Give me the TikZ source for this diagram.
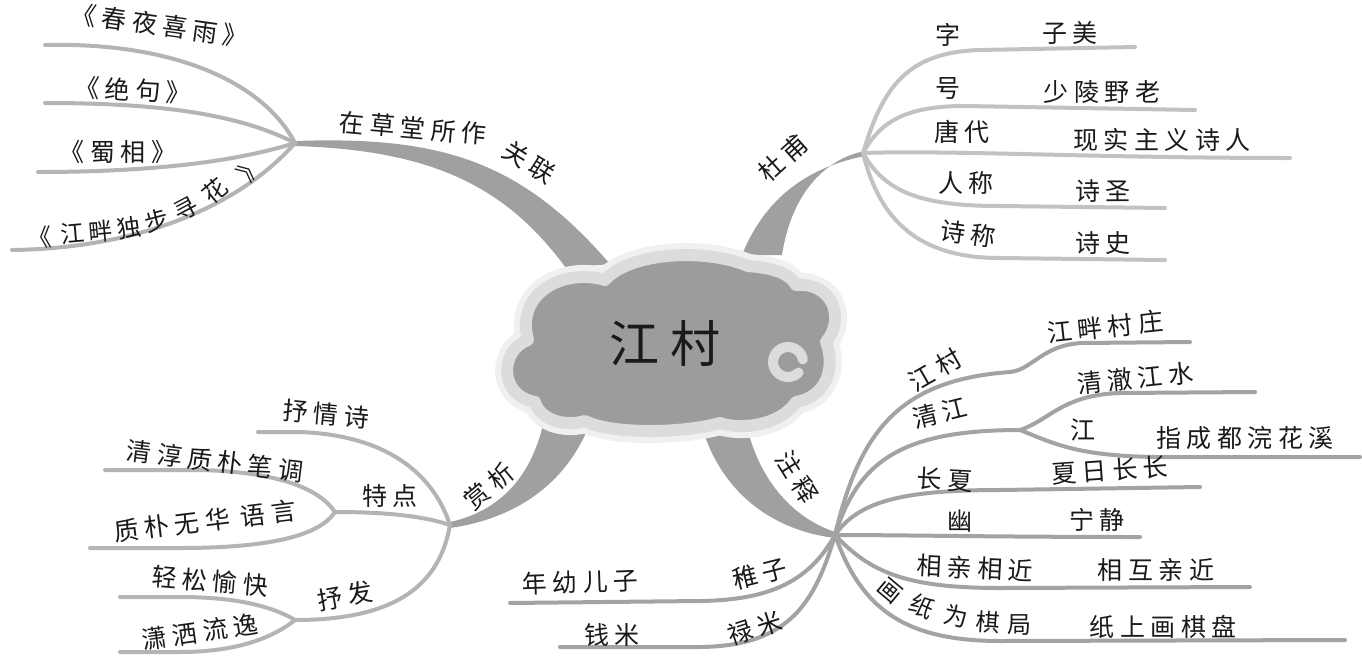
\documentclass[tikz,border=0pt]{standalone}
\usepackage{fontspec}
\newfontfamily\cjk[LetterSpace=22]{Noto Sans CJK SC}
\newfontfamily\cjkn{Noto Sans CJK SC}
\definecolor{txt}{HTML}{1A1A1A}
\definecolor{lgray}{HTML}{B4B4B4}
\definecolor{tgray}{HTML}{C2C2C2}
\definecolor{mgray}{HTML}{A3A3A3}
\definecolor{bgray}{HTML}{A0A0A0}
\definecolor{cloudc}{HTML}{9C9C9C}
\definecolor{haloc}{HTML}{DCDCDC}
\definecolor{haloo}{HTML}{F0F0F0}
\begin{document}
\begin{tikzpicture}[x=1pt,y=-1pt,
  lbl/.style={font=\cjk\fontsize{25}{25}\selectfont, text=txt, inner sep=0pt},
  lblc/.style={font=\cjkn\fontsize{24}{24}\selectfont, text=txt, inner sep=0pt},
  big/.style={font=\cjk\fontsize{50}{50}\selectfont, text=txt, inner sep=0pt},
  brTL/.style={draw=lgray, line width=4pt, line cap=round},
  brTR/.style={draw=tgray, line width=4pt, line cap=round},
  brLR/.style={draw=mgray, line width=4pt, line cap=round},
  brLL/.style={draw=lgray, line width=4pt, line cap=round},
  trunk/.style={fill=bgray}]
\useasboundingbox (0,0) rectangle (1362,659);
\fill[white] (0,0) rectangle (1362,659);

% ---------- hubs ----------
\coordinate (hTL) at (295,143);
\coordinate (hTR) at (863,153);
\coordinate (hLR) at (835,535);
\coordinate (hLL) at (450,525);
\coordinate (hQJ) at (1020,430);
\coordinate (hTD) at (335,512);
\coordinate (hSF) at (295,620);

% ---------- thick trunks ----------
\path[trunk] (295,141) .. controls (440,136) and (520,160) .. (610,264)
  -- (566,268) .. controls (505,185) and (430,150) .. (295,146) -- cycle;
\path[trunk] (865,151) .. controls (828,158) and (792,190) .. (782,255)
  -- (742,255) .. controls (768,190) and (818,165) .. (865,156) -- cycle;
\path[trunk] (700,420) .. controls (718,490) and (770,530) .. (835,538)
  -- (835,532) .. controls (785,515) and (755,470) .. (745,418) -- cycle;
\path[trunk] (592,418) .. controls (570,480) and (520,518) .. (450,528)
  -- (450,522) .. controls (505,510) and (535,470) .. (545,415) -- cycle;

% ---------- top-left branches ----------
\draw[brTL] (45,45) .. controls (170,42) and (262,80) .. (hTL);
\draw[brTL] (45,103) .. controls (150,103) and (235,112) .. (hTL);
\draw[brTL] (38,172) .. controls (150,172) and (235,162) .. (hTL);
\draw[brTL] (12,250) .. controls (150,248) and (245,200) .. (hTL);

% ---------- top-right branches ----------
\draw[brTR] (hTR) .. controls (882,90) and (905,52) .. (980,50) -- (1135,47);
\draw[brTR] (hTR) .. controls (880,122) and (905,106) .. (965,106) -- (1195,110);
\draw[brTR] (hTR) .. controls (950,150) and (1100,158) .. (1290,158);
\draw[brTR] (hTR) .. controls (885,192) and (920,206) .. (1000,206) -- (1165,208);
\draw[brTR] (hTR) .. controls (880,222) and (920,258) .. (1000,258) -- (1165,260);

% ---------- lower-right branches ----------
\draw[brLR] (hLR) .. controls (860,430) and (900,380) .. (1010,372)
  .. controls (1032,370) and (1042,345) .. (1082,343) -- (1190,342);
\draw[brLR] (hLR) .. controls (858,462) and (900,430) .. (hQJ);
\draw[brLR] (hQJ) .. controls (1050,420) and (1062,395) .. (1120,393) -- (1255,392);
\draw[brLR] (hQJ) .. controls (1060,446) and (1082,458) .. (1180,457) -- (1360,457);
\draw[brLR] (hLR) .. controls (858,502) and (900,490) .. (1000,490) -- (1200,487);
\draw[brLR] (hLR) .. controls (900,535) and (1000,537) .. (1140,537);
\draw[brLR] (hLR) .. controls (870,572) and (905,588) .. (1000,588) -- (1250,587);
\draw[brLR] (hLR) .. controls (860,605) and (900,641) .. (1000,641) -- (1345,640);
\draw[brLR] (hLR) .. controls (810,580) and (772,600) .. (700,601) -- (510,603);
\draw[brLR] (hLR) .. controls (815,602) and (790,646) .. (700,647) -- (560,647);

% ---------- lower-left branches ----------
\draw[brLL] (hLL) .. controls (432,470) and (382,435) .. (300,432) -- (258,432);
\draw[brLL] (hLL) .. controls (420,515) and (380,512) .. (hTD);
\draw[brLL] (hTD) .. controls (320,490) and (282,472) .. (200,470) -- (105,470);
\draw[brLL] (hTD) .. controls (320,535) and (272,548) .. (180,548) -- (90,548);
\draw[brLL] (hLL) .. controls (440,582) and (400,620) .. (hSF);
\draw[brLL] (hSF) .. controls (270,605) and (232,597) .. (180,597) -- (120,597);
\draw[brLL] (hSF) .. controls (270,640) and (232,652) .. (180,652) -- (120,652);

% ---------- cloud ----------
\def\cloudpath{(535,402) .. controls (498,395) and (500,350) .. (528,340)
  .. controls (515,292) and (565,268) .. (605,280)
  .. controls (630,252) and (705,248) .. (748,266)
  .. controls (775,268) and (790,274) .. (796,285)
  .. controls (832,282) and (846,318) .. (826,342)
  .. controls (836,368) and (826,397) .. (796,402)
  .. controls (780,426) and (740,430) .. (720,423)
  .. controls (680,434) and (610,434) .. (585,421)
  .. controls (565,427) and (540,420) .. (535,402) -- cycle}
\path[draw=haloo, line width=24pt, line join=round] \cloudpath;
\path[fill=cloudc, draw=haloc, line width=12pt, line join=round] \cloudpath;
\draw[haloc, line width=10pt, line cap=round] (802.8,359.4) arc[start angle=-10, end angle=-315, radius=15];
\node[big] (center) at (665,343) {江村};

% ---------- labels: top-left ----------
\node[lbl, rotate=-8] (chunye) at (160,25) {《春夜喜雨》};
\node[lbl, rotate=-3] (jueju) at (133,90) {《绝句》};
\node[lbl] (shuxiang) at (118,152) {《蜀相》};
\foreach \c/\px/\py/\r [count=\i] in {《/40/238/4, 江/73/233/5, 畔/101/231/5, 独/129/228/8, 步/157/221/15, 寻/186/209/28, 花/215/191/40, 》/250/168/50}
  \node[lblc, rotate=\r] (jiangpan\i) at (\px,\py) {\c};
\node[lbl, rotate=-5] (caotang) at (413,128) {在草堂所作};
\node[lbl, rotate=-32] (guanlian) at (529,162) {关联};

% ---------- labels: top-right ----------
\node[lbl, rotate=42] (dufu) at (783,158) {杜甫};
\node[lbl] (zi) at (948,35) {字};
\node[lbl] (zimei) at (1070,33) {子美};
\node[lbl] (hao) at (948,88) {号};
\node[lbl] (shaoling) at (1102,92) {少陵野老};
\node[lbl] (tangdai) at (962,132) {唐代};
\node[lbl] (xianshi) at (1162,140) {现实主义诗人};
\node[lbl] (rencheng) at (966,183) {人称};
\node[lbl] (shisheng) at (1103,191) {诗圣};
\node[lbl, rotate=-8] (shicheng) at (968,234) {诗称};
\node[lbl] (shishi) at (1103,243) {诗史};

% ---------- labels: lower-right ----------
\node[lbl, rotate=-58] (zhushi) at (797,477) {注释};
\node[lbl, rotate=30] (jiangcun) at (935,370) {江村};
\node[lbl, rotate=6] (jiangpancz) at (1105,327) {江畔村庄};
\node[lbl, rotate=14] (qingjiang) at (940,413) {清江};
\node[lbl, rotate=6] (qingche) at (1135,378) {清澈江水};
\node[lbl] (jiang) at (1083,430) {江};
\node[lbl] (zhicd) at (1245,438) {指成都浣花溪};
\node[lbl, rotate=-3] (changxia) at (945,480) {长夏};
\node[lbl, rotate=4] (xiari) at (1110,470) {夏日长长};
\node[lbl] (you) at (960,521) {幽};
\node[lbl] (ningjing) at (1097,520) {宁静};
\node[lbl, rotate=-3] (xiangqin) at (975,568) {相亲相近};
\node[lbl] (xianghu) at (1156,570) {相互亲近};
\foreach \c/\px/\py/\r [count=\i] in {画/890/591/-40, 纸/922/606/-25, 为/956/616/-12, 棋/988/622/-4, 局/1019/625/0}
  \node[lblc, rotate=\r] (huazhi\i) at (\px,\py) {\c};
\node[lbl] (zhishang) at (1163,627) {纸上画棋盘};
\node[lbl, rotate=14] (zhizi) at (760,574) {稚子};
\node[lbl, rotate=2] (nianyou) at (580,582) {年幼儿子};
\node[lbl, rotate=18] (lumi) at (755,628) {禄米};
\node[lbl] (qianmi) at (612,635) {钱米};

% ---------- labels: lower-left ----------
\node[lbl, rotate=40] (shangxi) at (489,486) {赏析};
\node[lbl, rotate=-5] (shuqing) at (326,414) {抒情诗};
\node[lbl] (tedian) at (390,496) {特点};
\node[lbl, rotate=-7] (qingchun) at (215,461) {清淳质朴笔调};
\node[lbl, rotate=7] (zhipu) at (205,521) {质朴无华 语言};
\node[lbl, rotate=-5] (qingsong) at (210,581) {轻松愉快};
\node[lbl, rotate=10] (shufa) at (345,596) {抒发};
\node[lbl, rotate=8] (xiaosa) at (200,632) {潇洒流逸};
\end{tikzpicture}
\end{document}
